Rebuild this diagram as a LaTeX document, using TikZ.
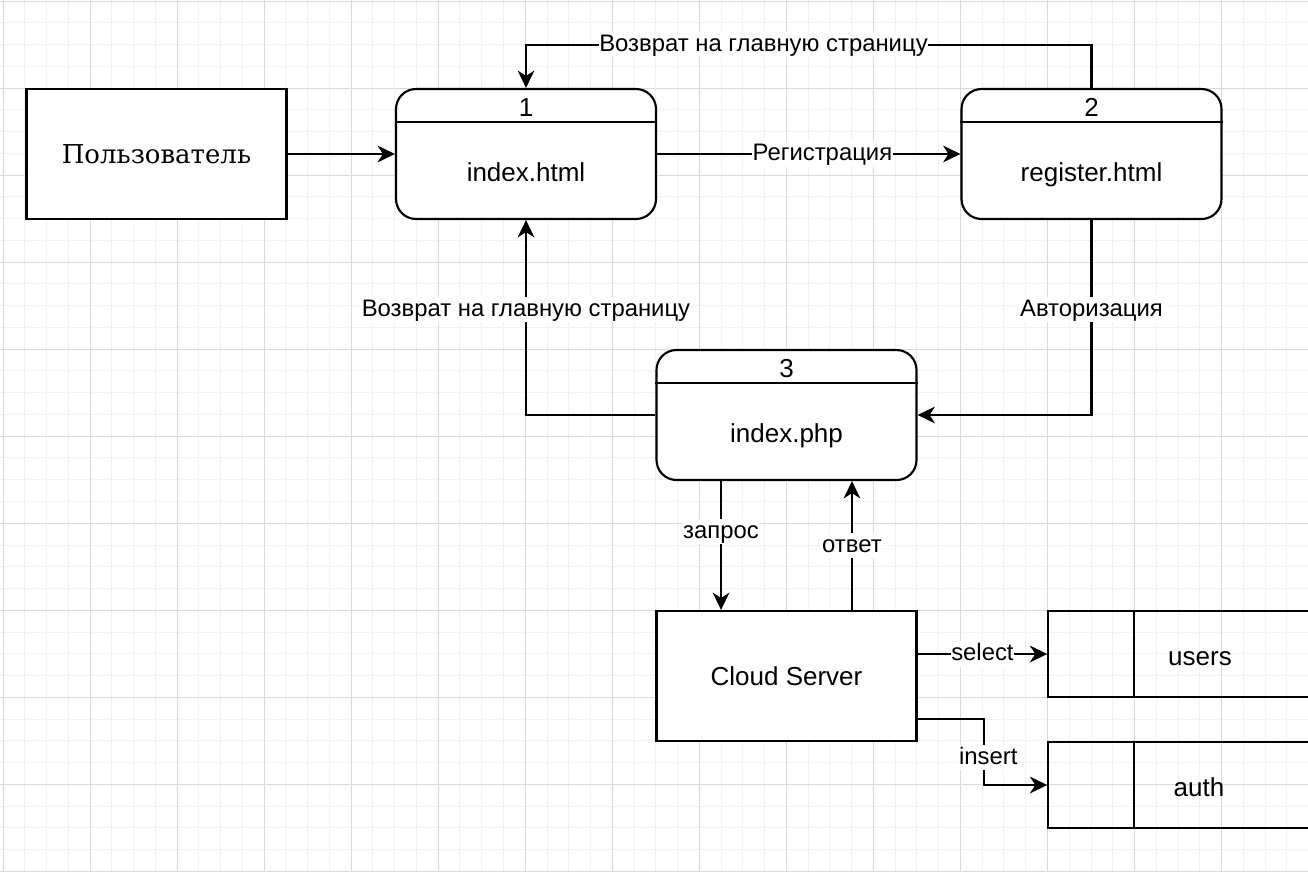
\documentclass[tikz,border=0pt]{standalone}
\usepackage{fontspec}
\setmainfont{Liberation Sans}
\newfontfamily\serifru{DejaVu Serif}
\usetikzlibrary{arrows.meta}

\definecolor{gridminor}{HTML}{F1F1F1}
\definecolor{gridmajor}{HTML}{DADADA}

\begin{document}
\begin{tikzpicture}[x=0.75pt, y=-0.75pt,
    every node/.style={font=\fontsize{19.5}{23}\selectfont, text height=17.6pt, text depth=4.1pt},
    box/.style={draw, line width=1.6pt, minimum width=195pt, minimum height=97.5pt},
    proc/.style={box, fill=white, rounded corners=15pt},
    tbl/.style={box, minimum width=202pt, minimum height=64.5pt},
    lbl/.style={fill=white, inner sep=0.5pt, font=\fontsize{17.9}{21}\selectfont, text height=14pt, text depth=3.8pt},
    ln/.style={line width=1.6pt},
    arr/.style={line width=1.6pt, -{Stealth[length=13pt, width=12.5pt, inset=4pt]}}]

        \useasboundingbox (0,0) rectangle (1308,871);
        \fill[white] (0,0) rectangle (1308,871);

        % grid
        \foreach \i in {0,...,60} {
          \draw[gridminor, line width=0.75pt] (3+21.76*\i, 0) -- (3+21.76*\i, 871);
        }
        \foreach \i in {0,...,40} {
          \draw[gridminor, line width=0.75pt] (0, 1+21.76*\i) -- (1308, 1+21.76*\i);
        }
        \foreach \i in {0,...,15} {
          \draw[gridmajor, line width=0.75pt] (3+87.05*\i, 0) -- (3+87.05*\i, 871);
        }
        \foreach \i in {0,...,10} {
          \draw[gridmajor, line width=0.75pt] (0, 1+87.05*\i) -- (1308, 1+87.05*\i);
        }

        % boxes
        \node[box, fill=white, font=\serifru\fontsize{19.5}{23}\selectfont] (user) at (156.5,154) {Пользователь};
        \node[proc] (b1) at (526,154) {};
        \node[proc] (b2) at (1091.5,154) {};
        \node[proc] (b3) at (786.5,415) {};
        \node[box, fill=white] (cloud) at (786.5,676) {Cloud Server};
        \node[tbl] (users) at (1183,654) {};
        \node[tbl] (auth) at (1183,785) {};

        % process headers
        \draw[ln] ([yshift=24pt]b1.west) -- ([yshift=24pt]b1.east);
        \draw[ln] ([yshift=24pt]b2.west) -- ([yshift=24pt]b2.east);
        \draw[ln] ([yshift=24pt]b3.west) -- ([yshift=24pt]b3.east);
        \node (n1) at ([yshift=35.25pt]b1.center) {1};
        \node (n2) at ([yshift=35.25pt]b2.center) {2};
        \node (n3) at ([yshift=35.25pt]b3.center) {3};
        \node (t1) at ([yshift=-13.5pt]b1.center) {index.html};
        \node (t2) at ([yshift=-13.5pt]b2.center) {register.html};
        \node (t3) at ([yshift=-13.5pt]b3.center) {index.php};

        % data stores
        \draw[ln] ([xshift=65.25pt]users.north west) -- ([xshift=65.25pt]users.south west);
        \draw[ln] ([xshift=65.25pt]auth.north west) -- ([xshift=65.25pt]auth.south west);
        \node (tu) at ([xshift=12.75pt, yshift=-2pt]users.center) {users};
        \node (ta) at ([xshift=12pt, yshift=-1.5pt]auth.center) {auth};

        % flows
        \draw[arr] (user) -- (b1);
        \draw[arr] (b1) -- node[lbl, pos=0.545] {Регистрация} (b2);
        \draw[arr] (b2.north) -- ++(0,-43) -| node[lbl, pos=0.29] {Возврат на главную страницу} (b1.north);
        \draw[arr] (b2.south) |- node[lbl, pos=0.23] {Авторизация} (b3.east);
        \draw[arr] (b3.west) -| node[lbl, pos=0.77] {Возврат на главную страницу} (b1.south);
        \draw[arr] ([xshift=-49.1pt]b3.south) -- node[lbl, pos=0.39] {запрос} ([xshift=-49.1pt]cloud.north);
        \draw[arr] ([xshift=49.1pt]cloud.north) -- node[lbl, pos=0.5] {ответ} ([xshift=49.1pt]b3.south);
        \draw[arr] ([yshift=16.5pt]cloud.east) -- node[lbl] {select} (users.west);
        \draw[arr] ([yshift=-32.25pt]cloud.east) -- ++(66,0) |- node[lbl, pos=0.29, xshift=3.5pt] {insert} (auth.west);
      \end{tikzpicture}
\end{document}
